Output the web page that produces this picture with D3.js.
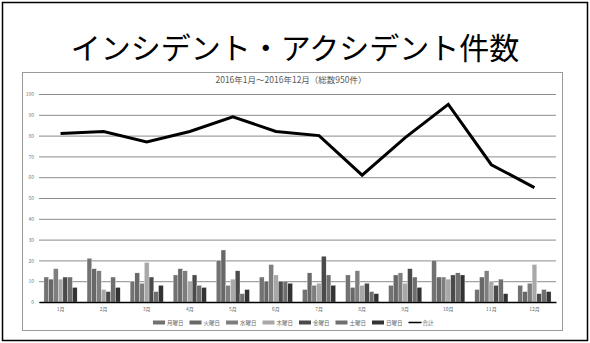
<!DOCTYPE html>
<html><head><meta charset="utf-8">
<script src="https://cdn.jsdelivr.net/npm/d3@7"></script>
<style>
html,body{margin:0;padding:0;background:#fff;}
svg{display:block;}
text{font-family:"Noto Sans CJK JP","Noto Sans",sans-serif;}
</style></head>
<body>
<svg id="c" width="590" height="343"></svg>
<script>
const title = "インシデント・アクシデント件数";
const subtitle = "2016年1月～2016年12月（総数950件）";
const months = ["1月","2月","3月","4月","5月","6月","7月","8月","9月","10月","11月","12月"];
const days = ["月曜日","火曜日","水曜日","木曜日","金曜日","土曜日","日曜日"];
const mon = [12,21,10,13,20,12,6,13,8,20,6,8];
const tue = [11,16,14,16,25,10,14,7,13,12,12,5];
const wed = [16,15,9,15,8,18,8,15,14,12,15,9];
const thu = [11,6,19,10,11,13,9,8,9,11,10,18];
const fri = [12,5,12,13,15,10,22,9,16,13,8,4];
const sat = [12,12,5,8,4,10,13,5,12,14,11,6];
const sun = [7,7,8,7,6,9,8,4,7,13,4,5];
const total = [81,82,77,82,89,82,80,61,79,95,66,55];
const yTicks = [0,10,20,30,40,50,60,70,80,90,100];
const totalLabel = "合計";

const series = [mon,tue,wed,thu,fri,sat,sun];
const colors = ["#727272","#686868","#7e7e7e","#a8a8a8","#4a4a4a","#6f6f6f","#333333"];

const svg = d3.select("#c");
svg.append("rect").attr("x",2.5).attr("y",2.5).attr("width",585).attr("height",338)
  .attr("fill","none").attr("stroke","#000").attr("stroke-width",1.5);
svg.append("text").attr("x",295).attr("y",59).attr("text-anchor","middle")
  .attr("font-size",30).attr("fill","#000").text(title);
svg.append("rect").attr("x",22.5).attr("y",72.5).attr("width",540).attr("height",258)
  .attr("fill","#fff").attr("stroke","#9a9a9a").attr("stroke-width",1);
svg.append("text").attr("x",291).attr("y",83).attr("text-anchor","middle")
  .attr("font-size",8.5).attr("fill","#595959").text(subtitle);

const y = d3.scaleLinear().domain([0,100]).range([302,94]);
const x0 = d3.scaleBand().domain(months).range([39,556]).paddingInner(0.23).paddingOuter(0.115);
const x1 = d3.scaleBand().domain(days).range([0,x0.bandwidth()]);

const gy = svg.append("g").attr("transform","translate(39,0)")
  .call(d3.axisLeft(y).tickValues(yTicks).tickSize(-517).tickFormat(d=>d));
gy.select(".domain").remove();
gy.selectAll(".tick line").attr("stroke","#8c8c8c").attr("stroke-width",1);
gy.selectAll(".tick text").attr("font-size",5).attr("fill","#777").attr("x",-5);

const g = svg.append("g");
series.forEach((s,i)=>{
  g.selectAll(null).data(s).enter().append("rect")
    .attr("x",(d,j)=>x0(months[j])+x1(days[i]))
    .attr("y",d=>y(d))
    .attr("width",x1.bandwidth())
    .attr("height",d=>y(0)-y(d))
    .attr("fill",colors[i]).attr("stroke","#fff").attr("stroke-width",0.3);
});

const gx = svg.append("g").attr("transform","translate(0,302)")
  .call(d3.axisBottom(x0).tickSize(0).tickPadding(5));
gx.select(".domain").attr("stroke","#000").attr("stroke-width",1.5);
gx.selectAll(".tick text").attr("font-size",5).attr("fill","#666");

const line = d3.line().x((d,j)=>x0(months[j])+x0.bandwidth()/2).y(d=>y(d));
svg.append("path").datum(total).attr("d",line).attr("fill","none")
  .attr("stroke","#000").attr("stroke-width",3).attr("stroke-linejoin","miter");

const leg = svg.append("g");
days.forEach((d,i)=>{
  const lx = 153 + i*36.5;
  leg.append("rect").attr("x",lx).attr("y",320.5).attr("width",12).attr("height",4).attr("fill",colors[i]);
  leg.append("text").attr("x",lx+14).attr("y",324.5).attr("font-size",5.5).attr("fill","#666").text(d);
});
const llx = 153 + 7*36.5;
leg.append("line").attr("x1",llx).attr("x2",llx+13).attr("y1",322.5).attr("y2",322.5)
  .attr("stroke","#000").attr("stroke-width",1.5);
leg.append("text").attr("x",llx+14).attr("y",324.5).attr("font-size",5.5).attr("fill","#666").text(totalLabel);
</script>
</body></html>
